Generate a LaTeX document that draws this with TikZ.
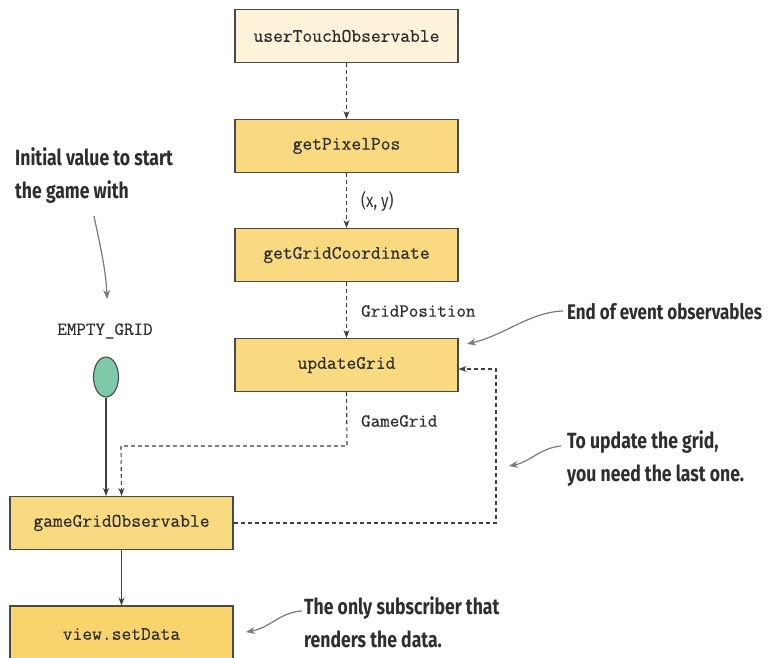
\documentclass[tikz,border=0pt]{standalone}
\usepackage{fontspec}
\newfontfamily\notefont[FakeStretch=0.8]{Fira Sans}
\newfontfamily\codefont[FakeBold=0.6]{Latin Modern Mono}
\usetikzlibrary{arrows.meta,shapes.geometric}
\definecolor{boxline}{HTML}{4A4A4A}
\definecolor{creamfill}{HTML}{FDF3DA}
\definecolor{yellowfill}{HTML}{FADA80}
\definecolor{deepyellow}{HTML}{F9D46C}
\definecolor{tealfill}{HTML}{7DC9A8}
\definecolor{linegray}{HTML}{404040}
\definecolor{notegray}{HTML}{7A7A7A}
\definecolor{notetext}{HTML}{2E2E2E}
\begin{document}
\begin{tikzpicture}[x=1pt,y=-1pt,
  box/.style={draw=boxline, line width=1.1pt, fill=yellowfill, minimum width=223pt,
    minimum height=53pt, inner sep=0pt, text=notetext, font=\fontsize{19}{21}\selectfont\codefont},
  codelabel/.style={inner sep=0pt, anchor=west, text=notetext, font=\fontsize{18.5}{20}\selectfont\codefont},
  note/.style={inner sep=0pt, anchor=north west, align=left, text=notetext,
    font=\fontsize{22}{33}\selectfont\notefont\bfseries},
  flow/.style={draw=linegray, line width=1.1pt, -{Stealth[length=8pt,width=6pt]}},
  dashflow/.style={flow, dash pattern=on 4pt off 3pt},
  pointer/.style={draw=notegray, line width=1.2pt, -{Stealth[length=9pt,width=7pt,fill=linegray]}}
]
\clip (0,0) rectangle (769,658);
\fill[white] (0,0) rectangle (769,658);

% main chain of observables
\node[box, fill=creamfill] (touch) at (346.5,36) {userTouchObservable};
\node[box] (pixel) at (346.5,146) {getPixelPos};
\node[box] (coord) at (346.5,255) {getGridCoordinate};
\node[box] (update) at (346.5,365) {updateGrid};
\node[box] (gamegrid) at (121.5,523) {gameGridObservable};
\node[box, fill=deepyellow, minimum height=56pt] (view) at (121.5,634) {\raisebox{-1.5pt}{view.setData}};

% initial value
\node[codelabel, anchor=center] (emptylabel) at (105,331) {EMPTY\_GRID};
\node[ellipse, draw=boxline, line width=1.1pt, fill=tealfill, minimum width=25pt,
  minimum height=40pt, inner sep=0pt] (empty) at (106,377) {};

% edge labels
\node[inner sep=0pt, anchor=west, text=notetext, font=\fontsize{19}{21}\selectfont\notefont] (xy) at (361,201) {(x, y)};
\node[codelabel] (gridpos) at (361,311) {GridPosition};
\node[codelabel] (gamegridlbl) at (361,421) {GameGrid};

% data flow
\draw[dashflow] (touch) -- (pixel);
\draw[dashflow] (pixel) -- (coord);
\draw[dashflow] (coord) -- (update);
\coordinate (bendA) at (347,446);
\coordinate (bendB) at (121,446);
\draw[dashflow] (update.south) -- (bendA) -- (bendB) -- (gamegrid.north);
\draw[flow] (empty.south) -- (empty.south |- gamegrid.north);
\draw[flow] (gamegrid) -- (view);
\coordinate (loopA) at (496,523);
\coordinate (loopB) at (496,369);
\draw[dashflow] (gamegrid.east |- loopA) -- (loopA) -- (loopB) -- (update.east |- loopB);

% annotations
\node[note] (initnote) at (15,147) {Initial value to start\\the game with};
\node[note, anchor=west, font=\fontsize{21.2}{30}\selectfont\notefont\bfseries] (endnote) at (567,312) {End of event observables};
\node[note] (lastnote) at (567,430) {To update the grid,\\you need the last one.};
\node[note] (subnote) at (304,596) {The only subscriber that\\renders the data.};

\coordinate (initstart) at (94,216);
\coordinate (initend) at (107,299);
\draw[pointer] (initstart) .. controls (100,245) and (106,270) .. (initend);
\coordinate (endstart) at (563,311);
\coordinate (endtip) at (467,344);
\draw[pointer] (endstart) .. controls (530,312) and (505,335) .. (endtip);
\coordinate (laststart) at (561,446);
\coordinate (lasttip) at (509,466);
\draw[pointer] (laststart) .. controls (540,448) and (530,462) .. (lasttip);
\coordinate (substart) at (302,611);
\coordinate (subtip) at (246,632);
\draw[pointer] (substart) .. controls (280,612) and (270,628) .. (subtip);
\end{tikzpicture}
\end{document}
